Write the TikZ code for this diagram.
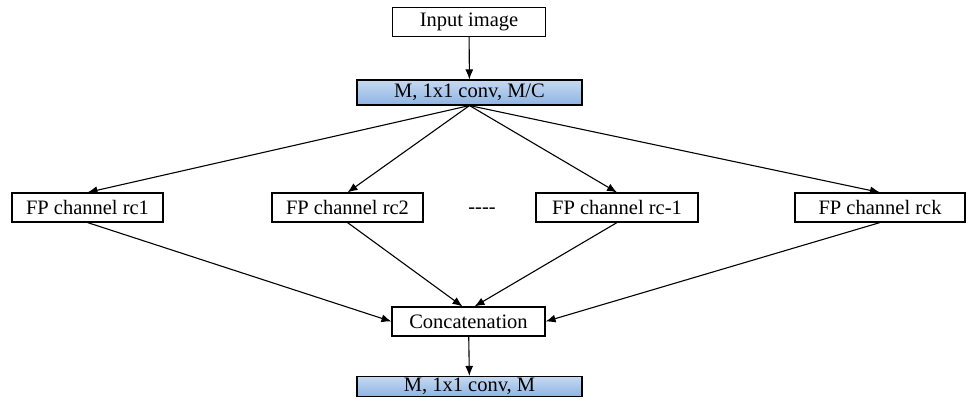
\documentclass[tikz,border=0pt]{standalone}
\usepackage{fontspec}
\setmainfont[Ligatures=NoCommon]{Liberation Serif}
\usetikzlibrary{arrows.meta}
\definecolor{bluetop}{HTML}{C6D9F1}
\definecolor{bluebot}{HTML}{8EB4E3}
\tikzset{
  box/.style={draw=black, line width=1.1pt, fill=white, minimum height=29pt,
    inner sep=0pt, font=\rmfamily\fontsize{20.5}{24}\selectfont},
  bluebox/.style={box, top color=bluetop, bottom color=bluebot, minimum height=25pt},
  arr/.style={line width=1.1pt, -{Latex[length=10pt,width=8pt]}},
}
\begin{document}
\begin{tikzpicture}[x=1pt,y=-1pt]
\useasboundingbox (0,0) rectangle (969,406);
% top chain
\node[box, minimum width=153pt] (inp) at (469,22) {Input image};
\node[bluebox, minimum width=225pt] (conv1) at (469.5,92.5) {M, 1x1 conv, M/C};
% parallel channels
\node[box, minimum width=151pt] (rc1) at (87.5,207.5) {FP channel rc1};
\node[box, minimum width=151pt] (rc2) at (347.5,207.5) {FP channel rc2};
\node[box, minimum width=162pt] (rcm) at (617,207.5) {FP channel rc-1};
\node[box, minimum width=170pt] (rck) at (880,207.5) {FP channel rck};
\node[font=\rmfamily\fontsize{20.5}{24}\selectfont, inner sep=0pt] (dots) at (482,211) {-{}-{}-{}-};
% merge
\node[box, minimum width=153pt] (cat) at (468.5,321.5) {Concatenation};
\node[bluebox, minimum width=225pt, minimum height=20pt] (conv2) at (469.5,386.5) {M, 1x1 conv, M};
% connectors
\draw[arr] (inp) -- (conv1);
\draw[arr] (conv1.south) -- (rc1.north);
\draw[arr] (conv1.south) -- (rc2.north);
\draw[arr] (conv1.south) -- (rcm.north);
\draw[arr] (conv1.south) -- (rck.north);
\draw[arr] (rc1.south) -- (cat.west);
\draw[arr] (rc2.south) -- ([xshift=-6pt]cat.north);
\draw[arr] (rcm.south) -- ([xshift=6pt]cat.north);
\draw[arr] (rck.south) -- (cat.east);
\draw[arr] (cat) -- (conv2);
\end{tikzpicture}
\end{document}
